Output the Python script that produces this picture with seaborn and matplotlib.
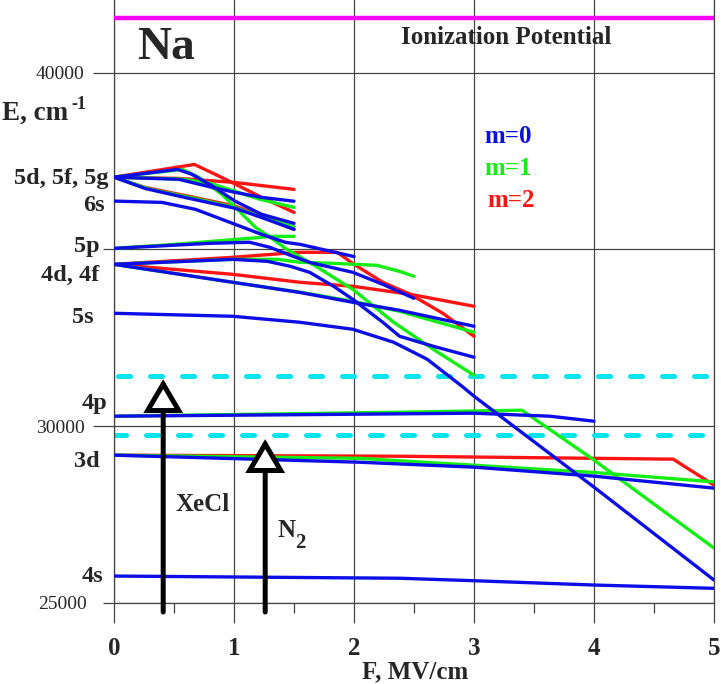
import numpy as np
import pandas as pd
import matplotlib
matplotlib.use("Agg")
import matplotlib.pyplot as plt
import seaborn as sns

# Stark map of Na levels, E in cm^-1 vs field F in MV/cm
# 5d, 5f, 5g manifold
f_5d_r1 = [0, 0.67, 0.93, 1.23, 1.5]
e_5d_r1 = [37040, 37400, 36980, 36470, 36045]
f_5d_r2 = [0, 0.54, 1.01, 1.5]
e_5d_r2 = [37040, 37005, 36890, 36695]
f_5d_r3 = [0, 0.26, 0.68, 1.01, 1.23, 1.5]
e_5d_r3 = [37040, 36750, 36460, 36220, 35940, 35565]
f_5d_g1 = [0, 0.57, 0.71, 0.9, 1.01, 1.18, 1.29, 1.44, 1.63, 1.99, 2.33, 2.66, 3.0]
e_5d_g1 = [37040, 37260, 37030, 36550, 36190, 35620, 35370, 35000, 34630, 33870, 32940, 32175, 31440]
f_5d_g2 = [0, 0.55, 0.8, 1.2, 1.5]
e_5d_g2 = [37040, 36990, 36870, 36430, 36186]
f_5d_g3 = [0, 0.3, 0.7, 1.0, 1.25, 1.5]
e_5d_g3 = [37040, 36700, 36420, 36190, 35900, 35630]
f_5d_b1 = [0, 0.53, 0.65, 0.82, 1.01, 1.23, 1.5]
e_5d_b1 = [37040, 37260, 37120, 36790, 36360, 35990, 35734]
f_5d_b2 = [0, 0.54, 0.82, 1.01, 1.23, 1.5]
e_5d_b2 = [37040, 36980, 36750, 36610, 36470, 36360]
f_5d_b3 = [0, 0.26, 0.6, 0.82, 1.01, 1.23, 1.5]
e_5d_b3 = [37040, 36720, 36460, 36300, 36160, 35900, 35565]

# 6s
f_6s = [0, 0.4, 0.68, 1.01, 1.23, 1.43, 1.55, 2.0]
e_6s = [36364, 36327, 36130, 35706, 35423, 35197, 35141, 34795]

# 5p
f_5p_b = [0, 0.8, 1.13, 1.3, 1.47, 1.63, 1.99, 2.24, 2.5]
e_5p_b = [35028, 35170, 35200, 35056, 34830, 34630, 34350, 34011, 33615]
f_5p_g = [0, 0.51, 0.9, 1.23, 1.29, 1.5]
e_5p_g = [35028, 35141, 35250, 35339, 35367, 35367]

# 4d, 4f
f_4d_b1 = [0, 0.99, 1.28, 1.47, 1.63, 1.83, 1.99, 2.24, 2.38, 2.66, 3.0]
e_4d_b1 = [34576, 34717, 34660, 34519, 34350, 33955, 33587, 32937, 32542, 32260, 31949]
f_4d_r1 = [0, 0.99, 1.53, 1.86, 2.0, 2.24, 2.47, 2.74, 3.0]
e_4d_r1 = [34576, 34774, 34915, 34915, 34576, 34068, 33728, 33192, 32542]
f_4d_g1 = [0, 0.99, 1.36, 1.55, 1.83, 2.19, 2.38, 2.5]
e_4d_g1 = [34576, 34717, 34717, 34633, 34604, 34548, 34378, 34237]
f_4d_r2 = [0, 0.99, 1.55, 1.99, 2.47, 3.0]
e_4d_r2 = [34576, 34293, 34068, 33955, 33728, 33390]
f_4d_g2 = [0, 0.99, 1.55, 1.99, 2.38, 3.0]
e_4d_g2 = [34576, 34068, 33790, 33531, 33248, 32655]
f_4d_b2 = [0, 0.99, 1.55, 1.99, 2.38, 3.0]
e_4d_b2 = [34576, 34068, 33780, 33503, 33276, 32825]

# 5s
f_5s = [0, 0.99, 1.55, 1.99, 2.33, 2.61, 2.91, 3.0, 4.0, 5.0]
e_5s = [33192, 33107, 32937, 32740, 32373, 31892, 31101, 30847, 28276, 25649]

# 4p
f_4p_b = [0, 2.05, 3.0, 3.63, 4.0]
e_4p_b = [30282, 30339, 30367, 30282, 30141]
f_4p_g = [0, 2.38, 3.4, 3.99, 5.0]
e_4p_g = [30282, 30395, 30451, 29067, 26553]

# 3d
f_3d_r = [0, 2.38, 4.66, 5.0]
e_3d_r = [29180, 29150, 29067, 28332]
f_3d_g = [0, 2.05, 4.0, 5.0]
e_3d_g = [29180, 29090, 28690, 28425]
f_3d_b = [0, 2.05, 3.0, 4.0, 5.0]
e_3d_b = [29180, 28980, 28841, 28587, 28248]

# 4s
f_4s = [0, 2.38, 3.0, 4.0, 5.0]
e_4s = [25762, 25700, 25630, 25508, 25415]

ion_potential = 41554
xecl_level = 31426
xecl_span = [0.03, 4.95]
n2_level = 29745
n2_span = [0.0, 4.9]

# laser arrows: field position, tip energy, tail energy
xecl_f, xecl_tip = 0.41, 31327
n2_f, n2_tip = 1.26, 29632
arrow_tail = 24745

level_names = ["5d, 5f, 5g", "6s", "5p", "4d, 4f", "5s", "4p", "3d", "4s"]

curves = [
    ("5d_r1", 2, f_5d_r1, e_5d_r1), ("5d_r2", 2, f_5d_r2, e_5d_r2), ("5d_r3", 2, f_5d_r3, e_5d_r3),
    ("5d_g1", 1, f_5d_g1, e_5d_g1), ("5d_g2", 1, f_5d_g2, e_5d_g2), ("5d_g3", 1, f_5d_g3, e_5d_g3),
    ("5d_b1", 0, f_5d_b1, e_5d_b1), ("5d_b2", 0, f_5d_b2, e_5d_b2), ("5d_b3", 0, f_5d_b3, e_5d_b3),
    ("6s", 0, f_6s, e_6s),
    ("5p_b", 0, f_5p_b, e_5p_b), ("5p_g", 1, f_5p_g, e_5p_g),
    ("4d_b1", 0, f_4d_b1, e_4d_b1), ("4d_r1", 2, f_4d_r1, e_4d_r1), ("4d_g1", 1, f_4d_g1, e_4d_g1),
    ("4d_r2", 2, f_4d_r2, e_4d_r2), ("4d_g2", 1, f_4d_g2, e_4d_g2), ("4d_b2", 0, f_4d_b2, e_4d_b2),
    ("5s", 0, f_5s, e_5s),
    ("4p_b", 0, f_4p_b, e_4p_b), ("4p_g", 1, f_4p_g, e_4p_g),
    ("3d_r", 2, f_3d_r, e_3d_r), ("3d_g", 1, f_3d_g, e_3d_g), ("3d_b", 0, f_3d_b, e_3d_b),
    ("4s", 0, f_4s, e_4s),
]

rows = []
for name, m, fs, es in curves:
    for f, e in zip(fs, es):
        rows.append((name, m, f, e))
df = pd.DataFrame(rows, columns=["curve", "m", "F", "E"])

sns.set_style("white")
plt.rcParams["font.family"] = ["Liberation Serif", "DejaVu Serif"]

fig = plt.figure(figsize=(7.21, 6.84), dpi=100)
ax = fig.add_axes([114 / 721, 81 / 684, 600 / 721, 603 / 684])

gray = "#444444"
palette = {0: "#0d0de6", 1: "#14ee14", 2: "#ff1414"}

# ionization limit and laser photon energies
ax.plot([0, 5], [ion_potential, ion_potential], color="#ff00ff", lw=3.2, solid_capstyle="butt", zorder=3)
for span, lev in [(xecl_span, xecl_level), (n2_span, n2_level)]:
    ax.plot(span, [lev, lev], color="#00e5ee", lw=3.6, dashes=(2.4, 4.0),
            dash_capstyle="round", zorder=2)

sns.lineplot(data=df, x="F", y="E", hue="m", units="curve", estimator=None, sort=False,
             hue_order=[2, 1, 0], palette=palette, legend=False, linewidth=2.4, ax=ax, zorder=4)

for f, tip in [(xecl_f, xecl_tip), (n2_f, n2_tip)]:
    ax.annotate("", xy=(f, tip), xytext=(f, arrow_tail), annotation_clip=False,
                arrowprops=dict(arrowstyle="-|>,head_length=0.95,head_width=0.56",
                                mutation_scale=20, lw=3.6, fc="white", ec="black",
                                shrinkA=0, shrinkB=0, capstyle="round", joinstyle="miter"),
                zorder=6)

ax.set_xlim(0, 5)
ax.set_ylim(25000, 42050)
ax.set_xticks(range(6))
ax.set_xticks(np.arange(0.5, 5, 1.0), minor=True)
ax.set_yticks([30000, 40000])
ax.set_yticks([25000, 35000], labels=["25000", ""], minor=True)
ax.tick_params(which="both", bottom=True, left=True, direction="out")
ax.tick_params(axis="x", which="major", length=14.4, width=0.9, color=gray, pad=10, labelsize=18)
ax.tick_params(axis="x", which="minor", length=7.2, width=0.9, color=gray)
ax.tick_params(axis="y", which="major", length=15, width=0.9, color=gray, pad=6, labelsize=14)
ax.tick_params(axis="y", which="minor", length=8, width=0.9, color=gray, pad=11.5, labelsize=14)
for lab in ax.get_xticklabels():
    lab.set_fontweight("bold")
ax.grid(True, which="major", color=gray, lw=0.9)
ax.grid(True, which="minor", axis="y", color=gray, lw=0.9)
ax.grid(False, which="minor", axis="x")
for side in ["left", "bottom", "right"]:
    ax.spines[side].set_color(gray)
    ax.spines[side].set_linewidth(0.9)
ax.spines["top"].set_visible(False)
ax.set_xlabel("")
ax.set_ylabel("")

# level labels at zero field
label_x = [-0.05, -0.075, -0.117, -0.125, -0.167, -0.058, -0.117, -0.092]
label_y = [36836, 36073, 34915, 34096, 32909, 30480, 28841, 25593]
for name, x, y in zip(level_names, label_x, label_y):
    ax.text(x, y, name, ha="right", va="baseline", fontsize=17.5, fontweight="bold", clip_on=False)

ax.text(0.43, 40706, "Na", ha="center", va="center", fontsize=34, fontweight="bold")
ax.text(3.27, 40819, "Ionization Potential", ha="center", va="baseline", fontsize=18, fontweight="bold")
ax.text(3.09, 37994, "m=0", color=palette[0], fontsize=18, fontweight="bold", va="baseline")
ax.text(3.09, 37090, "m=1", color=palette[1], fontsize=18, fontweight="bold", va="baseline")
ax.text(3.11, 36186, "m=2", color=palette[2], fontsize=18, fontweight="bold", va="baseline")
ax.text(0.51, 27598, "XeCl", fontsize=18, fontweight="bold", va="baseline")
ax.text(1.36, 26864, "N", fontsize=18, fontweight="bold", va="baseline")
ax.text(1.51, 26550, "2", fontsize=15, fontweight="bold", va="baseline")

fig.text(0.003, 1 - 120 / 684, "E, cm", fontsize=19.5, fontweight="bold", va="baseline")
fig.text(71 / 721, 1 - 109 / 684, "-1", fontsize=13, fontweight="bold", va="baseline")
fig.text(362 / 721, 1 - 678 / 684, "F, MV/cm", fontsize=18, fontweight="bold", va="baseline")

fig.savefig("out.png", dpi=100)
